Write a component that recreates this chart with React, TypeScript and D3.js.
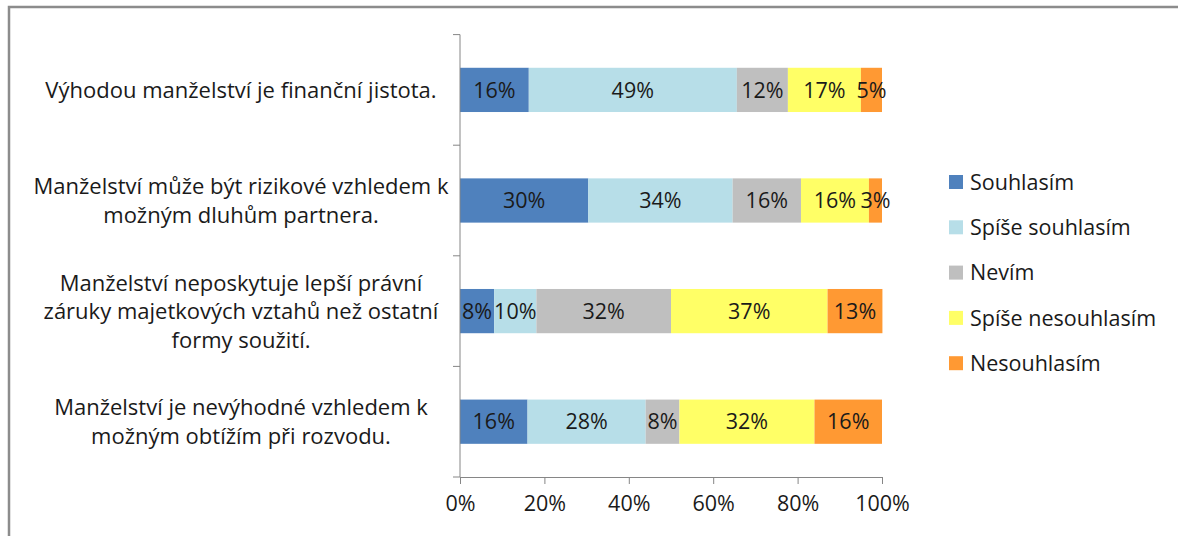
import { useEffect, useRef } from "react";
import * as d3 from "d3";

// Statements (categories), top to bottom
const categories = [
  "Výhodou manželství je finanční jistota.",
  "Manželství může být rizikové vzhledem k\nmožným dluhům partnera.",
  "Manželství neposkytuje lepší právní\nzáruky majetkových vztahů než ostatní\nformy soužití.",
  "Manželství je nevýhodné vzhledem k\nmožným obtížím při rozvodu.",
];

const seriesNames = [
  "Souhlasím",
  "Spíše souhlasím",
  "Nevím",
  "Spíše nesouhlasím",
  "Nesouhlasím",
];

// share of answers per category, one array per series
const souhlasim = [0.163, 0.304, 0.081, 0.16];
const spiseSouhlasim = [0.493, 0.342, 0.1, 0.28];
const nevim = [0.121, 0.162, 0.319, 0.08];
const spiseNesouhlasim = [0.173, 0.161, 0.371, 0.32];
const nesouhlasim = [0.05, 0.031, 0.13, 0.16];

const xTicks = [0, 0.2, 0.4, 0.6, 0.8, 1];

const colors = ["#4F81BD", "#B7DEE8", "#BFBFBF", "#FFFF66", "#FF9933"];

const FONT = "'Open Sans', 'DejaVu Sans', sans-serif";

const App = () => {
  const svgRef = useRef(null);

  useEffect(() => {
    const width = 1178;
    const height = 536;
    const plot = { left: 460, right: 882, top: 34.6, bottom: 477 };

    const svg = d3.select(svgRef.current);
    svg.selectAll("*").remove();
    svg.attr("width", width).attr("height", height);

    // chart frame (only top and left edges are inside the picture)
    svg
      .append("path")
      .attr("d", `M9,${height} V7 H${width}`)
      .attr("fill", "none")
      .attr("stroke", "#8c8c8c")
      .attr("stroke-width", 2.5);

    const series = [souhlasim, spiseSouhlasim, nevim, spiseNesouhlasim, nesouhlasim];
    const rows = categories.map((c, i) => {
      const row: any = { cat: c };
      seriesNames.forEach((s, j) => (row[s] = series[j][i]));
      return row;
    });
    const stacked = d3.stack().keys(seriesNames)(rows);

    const x = d3.scaleLinear().domain([0, 1]).range([plot.left, plot.right]);
    const y = d3
      .scaleBand()
      .domain(categories)
      .range([plot.top, plot.bottom])
      .padding(0);
    const barH = y.bandwidth() * 0.4;
    const barY = (c) => y(c) + (y.bandwidth() - barH) / 2;

    // bars
    stacked.forEach((layer, j) => {
      const g = svg.append("g");
      g.selectAll("rect")
        .data(layer)
        .enter()
        .append("rect")
        .attr("x", (d) => x(d[0]))
        .attr("y", (d) => barY(d.data.cat))
        .attr("width", (d) => x(d[1]) - x(d[0]))
        .attr("height", barH)
        .attr("fill", colors[j]);
    });

    // value labels
    stacked.forEach((layer) => {
      svg
        .append("g")
        .selectAll("text")
        .data(layer)
        .enter()
        .append("text")
        .attr("x", (d) => x((d[0] + d[1]) / 2))
        .attr("y", (d) => barY(d.data.cat) + barH / 2)
        .attr("dy", "0.36em")
        .attr("text-anchor", "middle")
        .style("font-family", FONT)
        .style("font-size", "21.5px")
        .style("fill", "#1a1a1a")
        .text((d) => d3.format(".0%")(d[1] - d[0]));
    });

    // category axis
    const boundaries = d3.range(categories.length + 1).map((i) => plot.top + i * y.step());
    svg
      .append("line")
      .attr("x1", plot.left)
      .attr("x2", plot.left)
      .attr("y1", plot.top)
      .attr("y2", plot.bottom)
      .attr("stroke", "#868686");
    svg
      .append("g")
      .selectAll("line")
      .data(boundaries)
      .enter()
      .append("line")
      .attr("x1", plot.left - 7)
      .attr("x2", plot.left)
      .attr("y1", (d) => d)
      .attr("y2", (d) => d)
      .attr("stroke", "#868686");

    const catLabels = svg
      .append("g")
      .selectAll("text")
      .data(categories)
      .enter()
      .append("text")
      .attr("text-anchor", "middle")
      .style("font-family", FONT)
      .style("font-size", "22px")
      .style("fill", "#1a1a1a");
    catLabels.each(function (c) {
      const lines = c.split("\n");
      const lh = 28.5;
      const cy = y(c) + y.bandwidth() / 2;
      const t = d3.select(this);
      lines.forEach((ln, k) => {
        t.append("tspan")
          .attr("x", 241)
          .attr("y", cy + (k - (lines.length - 1) / 2) * lh)
          .attr("dy", "0.36em")
          .text(ln);
      });
    });

    // value axis
    const xAxis = svg
      .append("g")
      .attr("transform", `translate(0,${plot.bottom})`)
      .call(
        d3
          .axisBottom(x)
          .tickValues(xTicks)
          .tickSize(7)
          .tickSizeOuter(0)
          .tickFormat(d3.format(".0%"))
      );
    xAxis.select(".domain").attr("stroke", "#868686");
    xAxis.selectAll(".tick line").attr("stroke", "#868686");
    xAxis
      .selectAll(".tick text")
      .attr("y", 26)
      .attr("dy", "0.36em")
      .style("font-family", FONT)
      .style("font-size", "21.5px")
      .style("fill", "#1a1a1a");

    // legend
    const legend = svg
      .append("g")
      .selectAll("g")
      .data(seriesNames)
      .enter()
      .append("g")
      .attr("transform", (d, i) => `translate(949,${182 + i * 45.3})`);
    legend
      .append("rect")
      .attr("x", 0)
      .attr("y", -7)
      .attr("width", 14)
      .attr("height", 14)
      .attr("fill", (d, i) => colors[i]);
    legend
      .append("text")
      .attr("x", 21)
      .attr("y", 0)
      .attr("dy", "0.36em")
      .style("font-family", FONT)
      .style("font-size", "21.5px")
      .style("fill", "#1a1a1a")
      .text((d) => d);
  }, []);

  return (
    <svg
      ref={svgRef}
      style={{ position: "absolute", left: 0, top: 0, background: "#fff" }}
    ></svg>
  );
};

export default App;
